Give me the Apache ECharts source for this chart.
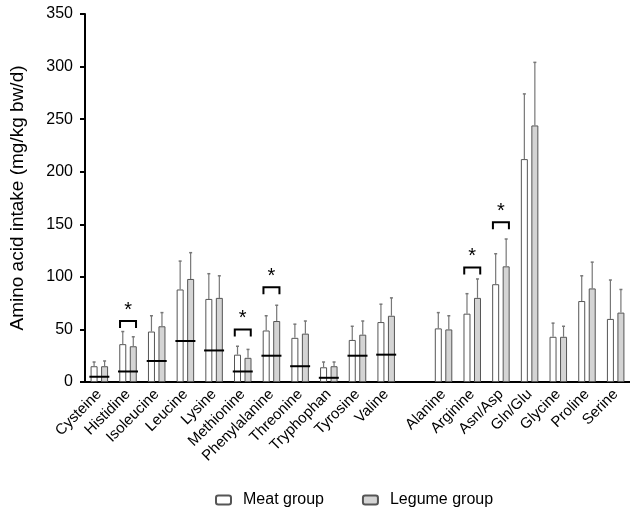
<!DOCTYPE html>
<html>
<head>
<meta charset="utf-8">
<script src="https://cdn.jsdelivr.net/npm/echarts@6/dist/echarts.min.js"></script>
<style>html,body{margin:0;padding:0;background:#fff}#c{width:630px;height:510px}</style>
</head>
<body>
<div id="c"></div>
<script>
var categories = ['Cysteine','Histidine','Isoleucine','Leucine','Lysine','Methionine','Phenylalanine','Threonine','Tryphophan','Tyrosine','Valine','','Alanine','Arginine','Asn/Asp','Gln/Glu','Glycine','Proline','Serine'];
var meatMean = [15,36,48,88,79,26,49,42,14,40,57,null,51,65,93,212,43,77,60];
var meatUpper = [19,48,63,115,103,34,63,55,19,53,74,null,66,84,122,274,56,101,97];
var legumeMean = [15,34,53,98,80,23,58,46,15,45,63,null,50,80,110,244,43,89,66];
var legumeUpper = [20,43,66,123,101,31,73,58,19,58,80,null,63,98,136,304,53,114,88];
var requirement = [5,10,20,39,30,10,25,15,4,25,26,null,null,null,null,null,null,null,null];
var sigCategories = ['Histidine','Methionine','Phenylalanine','Arginine','Asn/Asp'];
var sigBracketValue = [58,50,90,109,152];
var yTicks = [0,50,100,150,200,250,300,350];

var FONT = '"Liberation Sans", Arial, Helvetica, sans-serif';
var BAR_W = 7, OFF = 5.25;

function errData(mean, upper){
  var out = [];
  for (var i=0;i<categories.length;i++){ if(mean[i]!=null) out.push([i, mean[i], upper[i]]); }
  return out;
}
function errRender(offset){
  return function(params, api){
    var lo = api.coord([api.value(0), api.value(1)]);
    var hi = api.coord([api.value(0), api.value(2)]);
    var x = lo[0] + offset;
    return {type:'group', children:[
      {type:'line', shape:{x1:x,y1:lo[1],x2:x,y2:hi[1]}, style:{stroke:'#777',lineWidth:1.2}},
      {type:'line', shape:{x1:x-1.5,y1:hi[1],x2:x+1.5,y2:hi[1]}, style:{stroke:'#777',lineWidth:1.5}}
    ]};
  };
}
var reqData = [];
requirement.forEach(function(v,i){ if(v!=null) reqData.push([i,v]); });
var sigData = sigCategories.map(function(c,k){ return [categories.indexOf(c), sigBracketValue[k]]; });

var chart = echarts.init(document.getElementById('c'), null, {renderer:'canvas'});
chart.setOption({
  animation:false,
  textStyle:{fontFamily:FONT},
  grid:{left:77, top:14, bottom:128, width:555, containLabel:false},
  legend:{
    data:['Meat group','Legume group'], top:487, left:210,
    itemWidth:15, itemHeight:9, itemGap:38,
    textStyle:{fontSize:16, color:'#000', fontFamily:FONT, padding:[0,0,0,7]}
  },
  xAxis:{
    type:'category', data:categories,
    axisLine:{lineStyle:{color:'#000', width:2}},
    axisTick:{alignWithLabel:true, length:5, lineStyle:{color:'#000', width:2}, interval:0},
    axisLabel:{rotate:45, interval:0, fontSize:15, color:'#000', margin:10, fontFamily:FONT},
    splitLine:{show:false}
  },
  yAxis:{
    type:'value', min:0, max:350, interval:50,
    name:'Amino acid intake (mg/kg bw/d)', nameLocation:'middle', nameGap:58,
    nameTextStyle:{fontSize:19, color:'#000', fontFamily:FONT},
    axisLine:{show:true, lineStyle:{color:'#000', width:2}},
    axisTick:{show:true, length:5, lineStyle:{color:'#000', width:2}},
    axisLabel:{fontSize:16, color:'#000', margin:12, fontFamily:FONT},
    splitLine:{show:false}
  },
  series:[
    {name:'Meat group', type:'bar', data:meatMean, barWidth:BAR_W, barGap:'50%',
     itemStyle:{color:'#fff', borderColor:'#555', borderWidth:1}},
    {name:'Legume group', type:'bar', data:legumeMean, barWidth:BAR_W,
     itemStyle:{color:'#d4d4d4', borderColor:'#555', borderWidth:1}},
    {type:'custom', data:errData(meatMean, meatUpper), renderItem:errRender(-OFF), z:3, silent:true,
     encode:{x:0,y:[1,2]}},
    {type:'custom', data:errData(legumeMean, legumeUpper), renderItem:errRender(OFF), z:3, silent:true,
     encode:{x:0,y:[1,2]}},
    {type:'custom', data:reqData, z:4, silent:true, encode:{x:0,y:1},
     renderItem:function(params, api){
       var p = api.coord([api.value(0), api.value(1)]);
       return {type:'line', shape:{x1:p[0]-10,y1:p[1],x2:p[0]+10,y2:p[1]}, style:{stroke:'#000',lineWidth:2}};
     }},
    {type:'custom', data:sigData, z:4, silent:true, encode:{x:0,y:1},
     renderItem:function(params, api){
       var p = api.coord([api.value(0), api.value(1)]);
       var x1 = p[0]-8, x2 = p[0]+8, y = p[1];
       return {type:'group', children:[
         {type:'polyline', shape:{points:[[x1,y+7],[x1,y],[x2,y],[x2,y+7]]}, style:{stroke:'#000',lineWidth:2,fill:null}},
         {type:'text', x:p[0], y:y-1, style:{text:'*', fontSize:20, fontFamily:FONT, fill:'#000', align:'center', verticalAlign:'bottom'}}
       ]};
     }}
  ]
});
</script>
</body>
</html>
